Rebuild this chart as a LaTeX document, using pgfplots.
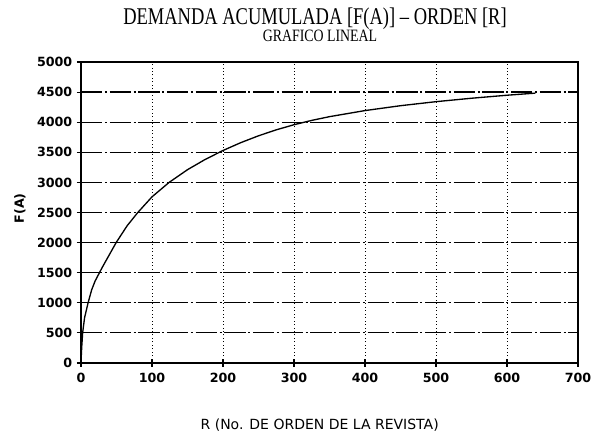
\documentclass[border=0pt]{standalone}
\usepackage{pgfplots}
\pgfplotsset{compat=1.18}
\usepackage{fontspec}
\setmainfont{DejaVu Sans}
\newfontfamily\titlefont{Liberation Serif}
\begin{document}
\begin{tikzpicture}
\path[use as bounding box] (-60.75pt,-59.25pt) rectangle (390pt,272.25pt);
\begin{axis}[
  at={(0,0)}, anchor=south west,
  scale only axis,
  width=372.75pt, height=225.75pt,
  xmin=0, xmax=700, ymin=0, ymax=5000,
  xtick={0,100,...,700}, ytick={0,500,...,5000},
  axis line style={black, line width=0.9pt},
  tick style={black, line width=0.8pt},
  tick align=center,
  major tick length=6pt,
  xtick pos=bottom, ytick pos=left,
  xmajorgrids, ymajorgrids,
  major x grid style={black, line width=0.6pt, dotted},
  major y grid style={black, line width=0.9pt, dash pattern=on 16pt off 2pt on 1.5pt off 2pt},
  /pgf/number format/assume math mode=true,
  /pgf/number format/1000 sep={},
  ticklabel style={font=\fontsize{9.5}{11}\selectfont\bfseries},
  xticklabel style={yshift=-1pt},
  clip=false,
]
\addplot[black, line width=1pt, line join=round] coordinates {
(0,0) (0.4,120) (1,260) (2.3,500) (5,750) (10,1000) (15,1215) (20,1365) (26,1500)
(30,1590) (40,1800) (49.5,2000) (65,2280) (80,2500) (100,2760) (124,2999)
(150,3211) (175,3382) (200,3530) (225,3660) (250,3774) (275,3873) (300,3958)
(325,4030) (350,4092) (400,4193) (450,4274) (500,4341) (550,4398) (600,4448)
(640,4483)
};
\end{axis}
\node[font=\titlefont\fontsize{18}{20}\selectfont] at (175.5pt,258pt) {\scalebox{0.77}[1]{DEMANDA ACUMULADA [F(A)] \textendash\ ORDEN [R]}};
\node[font=\titlefont\fontsize{13}{15}\selectfont] at (179.25pt,245pt) {\scalebox{0.8}[1]{GRAFICO LINEAL}};
\node[font=\fontsize{9.5}{11}\selectfont\bfseries, rotate=90] at (-45.75pt,116pt) {F(A)};
\node[font=\fontsize{10.5}{12}\selectfont] at (179pt,-46.5pt) {R (No. DE ORDEN DE LA REVISTA)};
\end{tikzpicture}
\end{document}
